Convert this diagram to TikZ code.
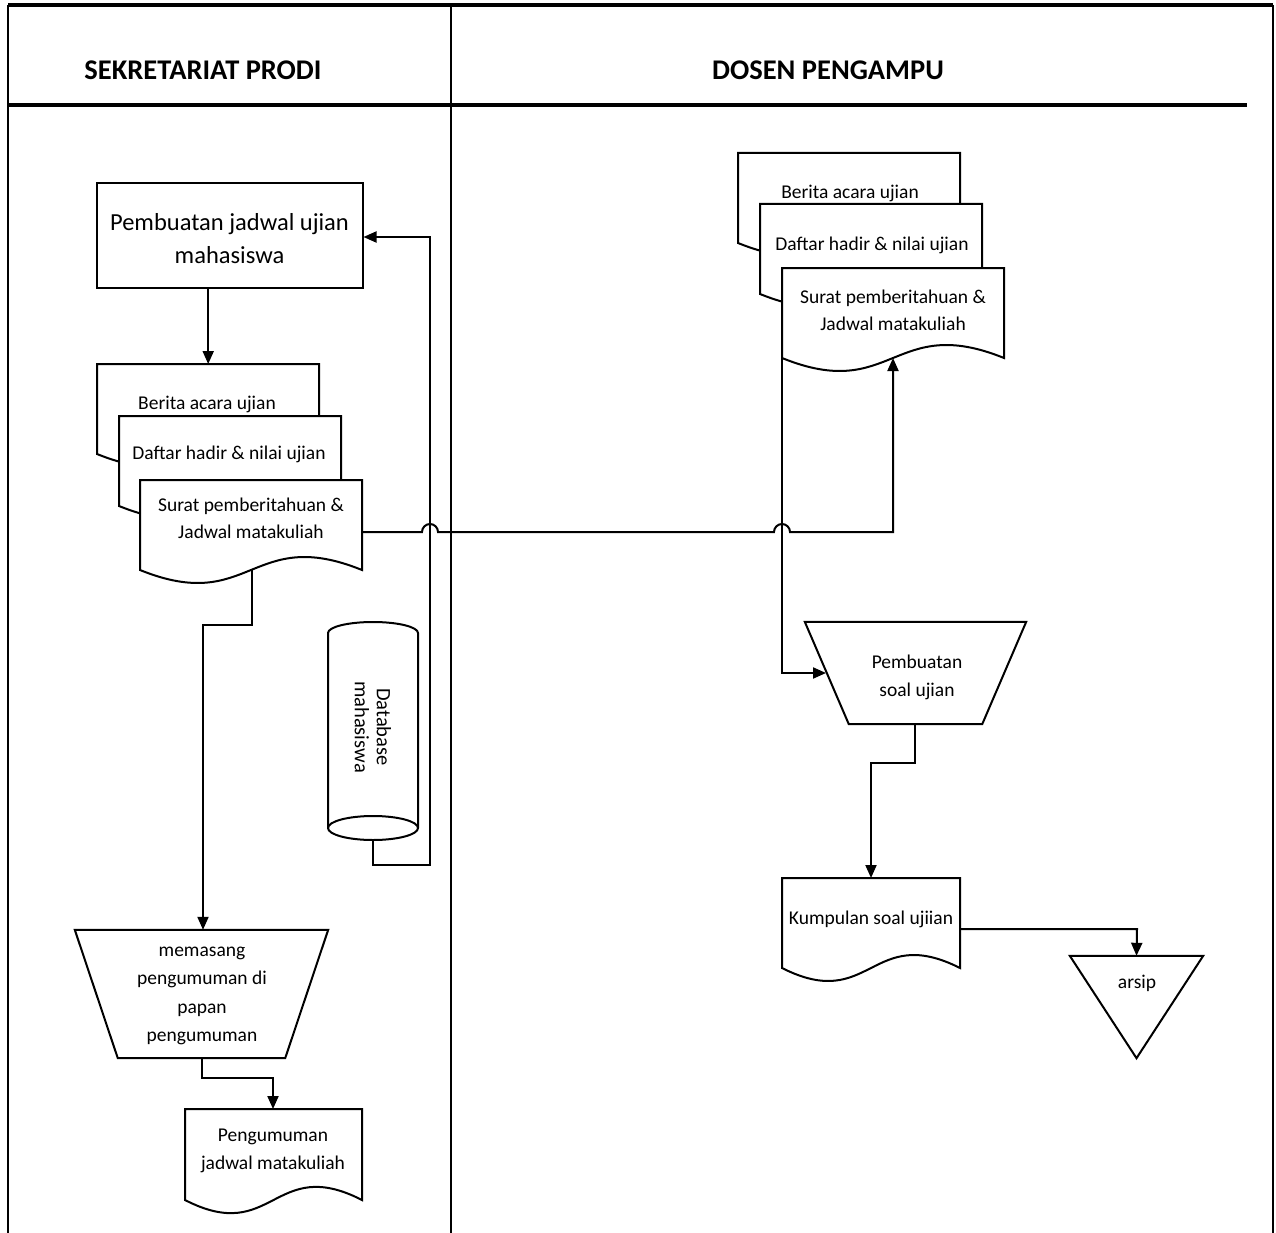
\documentclass[tikz,border=0pt]{standalone}
\usepackage{fontspec}
\setmainfont{Carlito}
\usetikzlibrary{arrows.meta,calc}

\newcommand\docshape[5]{% name, left, top, width, height
  \filldraw[shapeline,fill=white] (#2,#3) -- (#2+#4,#3) -- (#2+#4,#3+#5)
    .. controls (#2+#4/2,#3+#5-#5/2) and (#2+#4/2,#3+#5+#5/2) .. (#2,#3+#5) -- cycle;
  \node[inner sep=0pt,minimum width=#4pt,minimum height=#5pt,anchor=north west] (#1) at (#2,#3) {};
}

\begin{document}
\begin{tikzpicture}[x=1pt,y=-1pt,
  shapeline/.style={line width=2pt,line join=miter},
  frameline/.style={line width=2pt},
  headline/.style={line width=3.5pt},
  conn/.style={line width=2pt,-{Triangle[length=13pt,width=11pt]}},
  headtext/.style={font=\fontsize{28.5}{30}\selectfont\bfseries},
  doctext/.style={font=\fontsize{19.5}{27}\selectfont,align=center,inner sep=0pt},
  bigtext/.style={font=\fontsize{24.5}{33}\selectfont,align=center,inner sep=0pt},
]
\useasboundingbox (0,0) rectangle (1276,1233);

% ---- frame
\draw[headline] (8,5) -- (1273,5);
\draw[frameline] (8,5) -- (8,1233);
\draw[frameline] (1273,5) -- (1273,1233);
\draw[frameline] (451,5) -- (451,1233);
\draw[headline] (8,105) -- (1247,105);
\node[headtext] (h1) at (203,70) {SEKRETARIAT PRODI};
\node[headtext] (h2) at (828,70) {DOSEN PENGAMPU};

% ---- left lane
\node[draw,shapeline,minimum width=266pt,minimum height=104pt,inner sep=0pt] (r1) at (229.5,235.5) {};
\node[bigtext] (r1t) at (229.5,238.5) {Pembuatan jadwal ujian\\mahasiswa};

\docshape{b1}{97}{364}{222}{90}
\node[doctext] (b1t) at (207,404) {Berita acara ujian};
\docshape{b2}{119}{416}{222}{90}
\node[doctext] (b2t) at (229,454) {Daftar hadir \& nilai ujian};
\docshape{b3}{140}{480}{222}{90}
\node[doctext] (b3t) at (251,518) {Surat pemberitahuan \&\\Jadwal matakuliah};

% database cylinder
\filldraw[shapeline,fill=white] (328,633) arc[start angle=180,end angle=360,x radius=45,y radius=11]
  -- (418,828) arc[start angle=0,end angle=180,x radius=45,y radius=12] -- cycle;
\draw[shapeline] (328,828) arc[start angle=180,end angle=360,x radius=45,y radius=12];
\node[inner sep=0pt,minimum width=90pt,minimum height=218pt] (db) at (373,731) {};
\node[doctext,font=\fontsize{20.5}{22}\selectfont,rotate=-90] (dbt) at (373,727) {Database\\mahasiswa};

% trapezoid memasang
\node[inner sep=0pt,minimum width=253pt,minimum height=128pt] (t1) at (201.5,994) {};
\filldraw[shapeline,fill=white] (t1.north west) -- (t1.north east) -- ($(t1.south east)+(-43,0)$) -- ($(t1.south west)+(43,0)$) -- cycle;
\node[doctext,font=\fontsize{19.5}{28.5}\selectfont] (t1t) at (202,996) {memasang\\pengumuman di\\papan\\pengumuman};

\docshape{p1}{185}{1109}{177}{91}
\node[doctext,font=\fontsize{19.5}{28}\selectfont] (p1t) at (273,1151) {Pengumuman\\jadwal matakuliah};

% ---- right lane
\docshape{c1}{738}{153}{222}{90}
\node[doctext] (c1t) at (850,193) {Berita acara ujian};
\docshape{c2}{760}{204}{222}{90}
\node[doctext] (c2t) at (872,245) {Daftar hadir \& nilai ujian};
\docshape{c3}{782}{268}{222}{90}
\node[doctext] (c3t) at (893,310) {Surat pemberitahuan \&\\Jadwal matakuliah};

\node[inner sep=0pt,minimum width=221pt,minimum height=102pt] (t2) at (915.5,673) {};
\filldraw[shapeline,fill=white] (t2.north west) -- (t2.north east) -- ($(t2.south east)+(-44,0)$) -- ($(t2.south west)+(44,0)$) -- cycle;
\node[doctext,font=\fontsize{19.5}{28}\selectfont] (t2t) at (917,677) {Pembuatan\\soal ujian};

\docshape{k1}{782}{878}{178}{90}
\node[doctext] (k1t) at (871,919) {Kumpulan soal ujiian};

\node[inner sep=0pt,minimum width=133pt,minimum height=102pt] (tr) at (1136.5,1007) {};
\filldraw[shapeline,fill=white] (tr.north west) -- (tr.north east) -- (tr.south) -- cycle;
\node[doctext] (trt) at (1137,983) {arsip};

% ---- connectors
\draw[conn] (r1.south -| b1.north) -- (b1.north);
\draw[conn] (db.south) -- ++(0,25) -| (430,237) -- (r1.east |- 0,237);
\draw[conn] (b3.east |- 0,532) -- (422,532) arc[start angle=180,end angle=360,radius=8]
  -- (774,532) arc[start angle=180,end angle=360,radius=8] -- (893,532) -- (893,358);
\draw[conn] (252,570) -- (252,625) -- (203,625) -- (t1.north -| 203,0);
\draw[conn] (t1.south -| 202,0) -- (202,1078) -- (273,1078) -- (p1.north -| 273,0);
\draw[conn] (c3.south west) -- (782,673) -- (826,673);
\draw[conn] (t2.south -| 915,0) -- (915,763) -- (871,763) -- (k1.north -| 871,0);
\draw[conn] (k1.east |- 0,929) -- (1137,929) -- (tr.north);
\end{tikzpicture}
\end{document}
